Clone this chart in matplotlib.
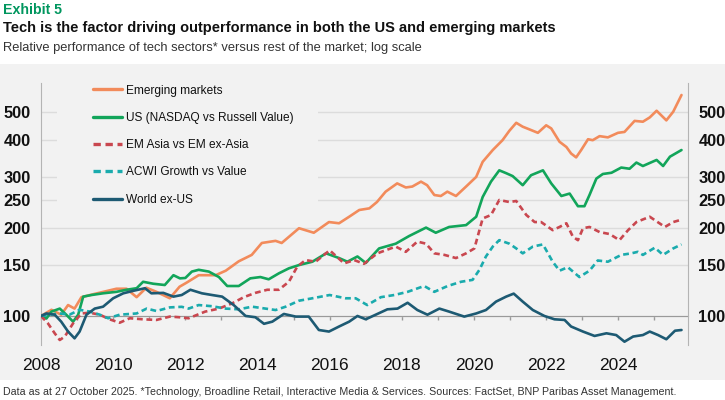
import matplotlib
matplotlib.use("Agg")
import matplotlib.pyplot as plt
from matplotlib.patches import Rectangle
from matplotlib.ticker import FixedLocator, NullLocator, FixedFormatter

plt.rcParams['font.family'] = ['Liberation Sans', 'DejaVu Sans']

# Dati (anno, valore indicizzato = 100 a inizio 2008)
em_anni = [2008.0, 2008.29, 2008.56, 2008.75, 2008.93, 2009.12, 2009.48, 2010.09, 2010.37, 2010.65,
           2010.92, 2011.2, 2011.57, 2011.84, 2012.03, 2012.37, 2012.84, 2013.12, 2013.48, 2013.84,
           2014.12, 2014.5, 2014.67, 2015.15, 2015.56, 2015.98, 2016.26, 2016.54, 2016.82, 2017.1,
           2017.31, 2017.55, 2017.87, 2018.11, 2018.29, 2018.53, 2018.7, 2018.9, 2019.08, 2019.26,
           2019.5, 2019.78, 2020.06, 2020.24, 2020.52, 2020.79, 2020.98, 2021.17, 2021.35, 2021.53,
           2021.77, 2022.0, 2022.14, 2022.37, 2022.56, 2022.69, 2022.83, 2022.97, 2023.16, 2023.29,
           2023.48, 2023.71, 2023.99, 2024.17, 2024.45, 2024.68, 2024.87, 2025.06, 2025.33, 2025.52,
           2025.75]
em_valori = [100, 105, 101, 109, 106, 116, 119, 124, 124, 116,
             125, 121, 115, 126, 130, 138, 138, 143, 154, 162,
             178, 181, 178, 200, 193, 210, 208, 219, 231, 234,
             246, 267, 285, 276, 278, 289, 281, 260, 258, 267,
             258, 278, 300, 338, 371, 401, 432, 460, 446, 437,
             425, 451, 440, 396, 380, 361, 350, 371, 404, 401,
             414, 410, 425, 428, 467, 464, 480, 506, 469, 502,
             573]

us_anni = [2008.0, 2008.15, 2008.29, 2008.52, 2008.7, 2008.89, 2009.03, 2009.17, 2009.4, 2009.72,
           2010.09, 2010.37, 2010.65, 2010.83, 2011.11, 2011.43, 2011.67, 2011.85, 2012.0, 2012.18,
           2012.37, 2012.65, 2012.93, 2013.16, 2013.48, 2013.8, 2014.08, 2014.31, 2014.59, 2014.87,
           2015.15, 2015.52, 2015.9, 2016.26, 2016.49, 2016.77, 2017.0, 2017.37, 2017.83, 2018.2,
           2018.67, 2018.94, 2019.31, 2019.78, 2020.06, 2020.24, 2020.47, 2020.7, 2020.89, 2021.07,
           2021.35, 2021.58, 2021.91, 2022.14, 2022.42, 2022.65, 2022.88, 2023.06, 2023.2, 2023.39,
           2023.57, 2023.81, 2024.08, 2024.31, 2024.5, 2024.68, 2025.06, 2025.24, 2025.43, 2025.75]
us_valori = [100, 98, 103.5, 106, 101, 95.6, 101, 116.5, 118, 119.6,
             121, 123, 124.5, 131, 129, 127.7, 138, 134.6, 135, 142,
             144, 142, 136, 126.7, 126.7, 134.6, 136, 133.6, 140, 145.7,
             149.5, 153.5, 164, 158, 153.5, 160, 152, 170.5, 177, 188,
             201, 193, 202, 205, 219, 256, 289, 316, 309, 302,
             281, 304, 316, 285, 258, 263, 238, 238, 260, 296,
             307, 310, 323, 320, 336, 327, 343, 327, 352, 371]

asia_anni = [2008.0, 2008.19, 2008.38, 2008.52, 2008.66, 2008.89, 2009.12, 2009.35, 2009.63, 2009.9,
             2010.18, 2010.46, 2010.83, 2011.2, 2011.57, 2011.83, 2012.09, 2012.55, 2012.93, 2013.3,
             2013.62, 2013.94, 2014.27, 2014.59, 2014.87, 2015.1, 2015.33, 2015.61, 2016.0, 2016.4,
             2016.68, 2016.95, 2017.32, 2017.55, 2017.83, 2018.11, 2018.43, 2018.67, 2018.9, 2019.18,
             2019.5, 2019.78, 2020.01, 2020.24, 2020.47, 2020.7, 2020.98, 2021.17, 2021.45, 2021.68,
             2021.86, 2022.18, 2022.37, 2022.56, 2022.74, 2022.88, 2023.02, 2023.2, 2023.48, 2023.76,
             2024.03, 2024.27, 2024.5, 2024.87, 2025.29, 2025.52, 2025.75]
asia_valori = [100, 94.4, 87.2, 82.7, 85, 94.4, 102, 102.6, 101, 97.4,
               94.8, 98.2, 97.4, 96.9, 99.5, 99, 98.2, 103.5, 106, 110.5,
               116, 120, 123, 123, 131, 147.6, 155.5, 153.5, 168, 151.5,
               155.5, 151, 164, 168, 173, 166, 180, 177, 164, 162,
               158, 164, 170.5, 216, 222, 250, 246, 248, 222, 210,
               210, 197, 202, 208, 187, 182, 200, 202, 194, 191,
               182, 197, 210, 219, 202, 210, 214]

acwi_anni = [2008.0, 2008.24, 2008.52, 2008.79, 2009.07, 2009.35, 2009.63, 2009.86, 2010.18, 2010.65,
             2010.93, 2011.2, 2011.57, 2011.9, 2012.09, 2012.37, 2012.74, 2013.11, 2013.48, 2013.85,
             2014.22, 2014.5, 2014.78, 2015.15, 2015.52, 2016.0, 2016.44, 2016.72, 2017.04, 2017.42,
             2017.79, 2018.16, 2018.62, 2018.9, 2019.27, 2019.64, 2019.96, 2020.15, 2020.33, 2020.52,
             2020.7, 2020.98, 2021.17, 2021.35, 2021.63, 2021.91, 2022.18, 2022.37, 2022.6, 2022.92,
             2023.2, 2023.43, 2023.71, 2024.08, 2024.36, 2024.54, 2024.68, 2025.01, 2025.24, 2025.52,
             2025.75]
acwi_valori = [100, 101, 102, 101, 105, 103.5, 101, 98.2, 101, 102,
               106, 104, 107, 107.5, 106, 109, 108, 106, 105.4, 107.6,
               106, 104.8, 107.6, 112.8, 115, 118, 115, 115, 109, 116,
               118, 121, 126.7, 121, 126.7, 131, 133, 144, 160, 173,
               182, 177, 170.5, 164, 173, 176, 153.5, 143, 147, 136,
               143, 155, 153.5, 162, 164, 166, 162, 171.5, 162, 170.5,
               176]

world_anni = [2008.0, 2008.15, 2008.38, 2008.56, 2008.75, 2008.93, 2009.07, 2009.26, 2009.49, 2009.72,
              2010.0, 2010.28, 2010.56, 2010.88, 2011.06, 2011.39, 2011.67, 2011.9, 2012.14, 2012.46,
              2012.74, 2013.02, 2013.34, 2013.67, 2013.94, 2014.18, 2014.41, 2014.73, 2015.06, 2015.42,
              2015.7, 2015.98, 2016.26, 2016.54, 2016.77, 2017.0, 2017.32, 2017.6, 2017.88, 2018.16,
              2018.43, 2018.71, 2019.04, 2019.31, 2019.73, 2020.06, 2020.33, 2020.61, 2020.89, 2021.1,
              2021.35, 2021.63, 2021.95, 2022.23, 2022.51, 2022.69, 2023.02, 2023.34, 2023.67, 2023.94,
              2024.17, 2024.41, 2024.68, 2024.87, 2025.1, 2025.33, 2025.57, 2025.75]
world_valori = [100, 102, 101, 95.6, 88.4, 83.8, 88.4, 101, 106, 107.6,
                115, 119.6, 122, 124.5, 119.6, 120, 116.5, 118, 123, 119.6,
                118, 116.5, 109, 100, 99, 94, 95.6, 101.6, 99.5, 99.5,
                89.5, 88.4, 92, 95.6, 100, 97.4, 101.6, 105.4, 106, 111,
                104.8, 101, 106, 103.5, 99.5, 102, 104.8, 112, 116.5, 119.3,
                112, 104.8, 100, 97.4, 96.9, 92, 88.4, 85.4, 87.2, 86,
                81.6, 85, 86, 88.4, 86, 83.2, 89, 89.5]

etichette = ["Emerging markets", "US (NASDAQ vs Russell Value)", "EM Asia vs EM ex-Asia",
             "ACWI Growth vs Value", "World ex-US"]
colori = ['#f28b5b', '#12a55a', '#c9474f', '#1aabad', '#1d5a73']

tick_y = [100, 150, 200, 250, 300, 400, 500]
anni_etichette = [2008, 2010, 2012, 2014, 2016, 2018, 2020, 2022, 2024]
anni_minori = [2009, 2011, 2013, 2015, 2017, 2019, 2021, 2023, 2025]

sfondo = '#f2f2f2'

fig = plt.figure(figsize=(7.25, 4), dpi=100)
fig.patch.set_facecolor('white')
fig.add_artist(Rectangle((0, 0.05), 1, 0.79, transform=fig.transFigure,
                         facecolor=sfondo, edgecolor='none', zorder=0))

ax = fig.add_axes([41/725, 55/400, 647/725, 262/400])
ax.set_facecolor(sfondo)
ax.set_yscale('log')
ax.set_ylim(79.5, 630)
ax.set_xlim(2008, 2025.93)

# Linee
serie = [(em_anni, em_valori, '-'), (us_anni, us_valori, '-'), (asia_anni, asia_valori, '--'),
         (acwi_anni, acwi_valori, '--'), (world_anni, world_valori, '-')]
linee = []
for (xx, yy, stile), col, lab in zip(serie, colori, etichette):
    l, = ax.plot(xx, yy, color=col, lw=1.9, ls=stile, label=lab, zorder=3,
                 solid_joinstyle='round', solid_capstyle='round')
    if stile == '--':
        l.set_dashes((2.2, 1.4))
    linee.append(l)

# Assi
ax.yaxis.set_major_locator(FixedLocator(tick_y))
ax.yaxis.set_major_formatter(FixedFormatter([str(v) for v in tick_y]))
ax.yaxis.set_minor_locator(NullLocator())
ax.tick_params(axis='y', which='both', left=False, right=False, labelleft=True, labelright=True,
               labelsize=11.8, pad=4)
ax.grid(axis='y', color='#dcdcdc', lw=1, zorder=0.5)
ax.set_axisbelow(True)

ax.set_xticks(anni_etichette)
ax.set_xticks(anni_minori, minor=True)
ax.tick_params(axis='x', which='both', direction='out', length=3, width=1, color='#9a9a9a',
               labelsize=12.5, pad=27)

for lab in ax.get_xticklabels() + ax.get_yticklabels():
    lab.set_fontweight('bold')
ax.yaxis.set_tick_params(labelcolor='#111111')
ax.xaxis.set_tick_params(labelcolor='#111111')

ax.spines['top'].set_visible(False)
ax.spines['bottom'].set_position(('data', 100))
ax.spines['bottom'].set_color('#9a9a9a')
ax.spines['bottom'].set_zorder(2)
for s in ['left', 'right']:
    ax.spines[s].set_color('#b4b4b4')

# Riquadro legenda (copre la griglia)
ax.add_patch(Rectangle((0.025, 0.508), 0.403, 0.492, transform=ax.transAxes,
                       facecolor=sfondo, edgecolor='none', zorder=1))
leg = ax.legend(handles=linee, loc='upper left', bbox_to_anchor=(0.080, 0.994), frameon=False,
                fontsize=8.6, handlelength=2.45, handletextpad=0.34, labelspacing=1.28,
                borderpad=0, borderaxespad=0)
for t in leg.get_texts():
    t.set_color('#111111')
for l in leg.get_lines():
    l.set_linewidth(2.4)

# Titoli
fig.text(0.004, 1 - 10/400, "Exhibit 5", color='#00965e', fontsize=10.2, fontweight='bold', va='center')
fig.text(0.004, 1 - 28/400, "Tech is the factor driving outperformance in both the US and emerging markets",
         color='#111111', fontsize=10.5, fontweight='bold', va='center')
fig.text(0.004, 1 - 48/400, "Relative performance of tech sectors* versus rest of the market; log scale",
         color='#333333', fontsize=9.3, va='center')
fig.text(0.004, 1 - 392/400,
         "Data as at 27 October 2025. *Technology, Broadline Retail, Interactive Media & Services. "
         "Sources: FactSet, BNP Paribas Asset Management.",
         color='#333333', fontsize=7.7, va='center')

fig.savefig("out.png", dpi=100, facecolor=fig.get_facecolor())
